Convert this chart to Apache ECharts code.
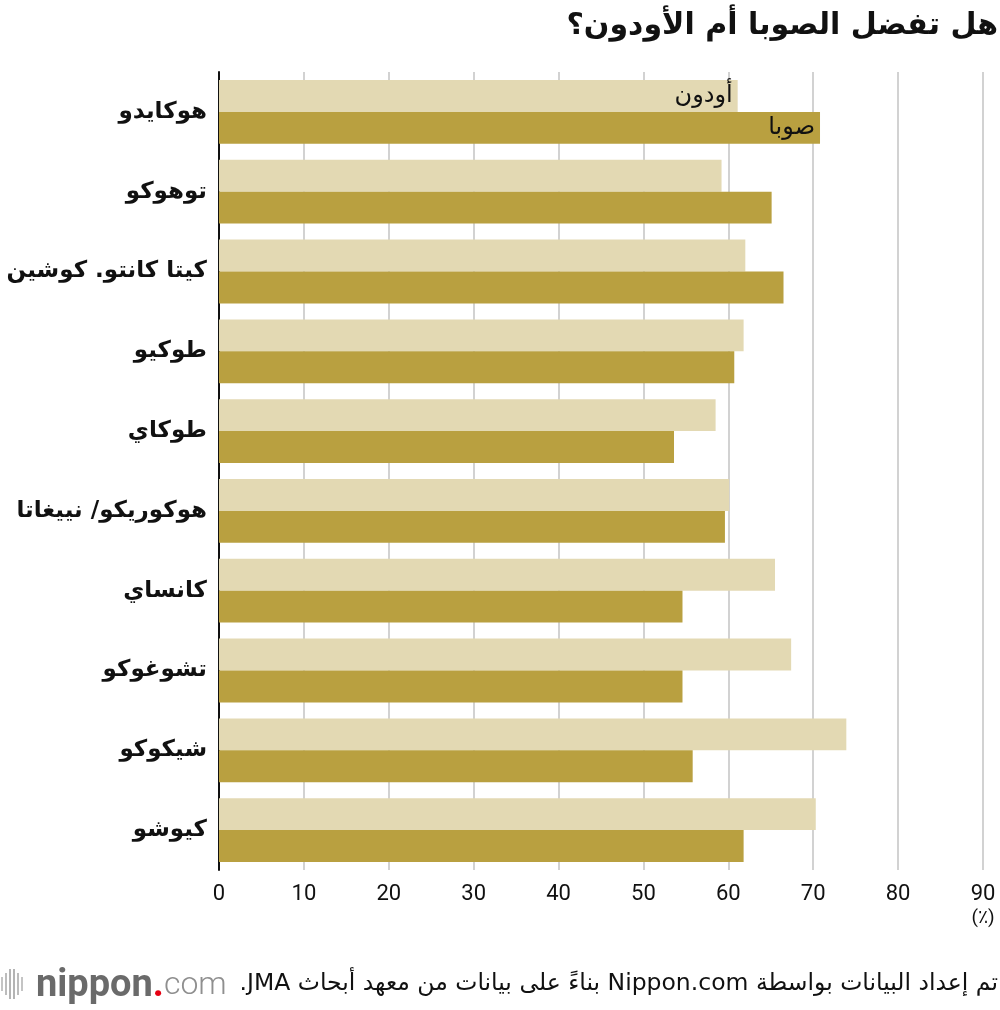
<!DOCTYPE html>
<html>
<head>
<meta charset="utf-8">
<script src="https://cdn.jsdelivr.net/npm/echarts@6/dist/echarts.min.js"></script>
<style>
html, body { margin: 0; padding: 0; background: #fff; }
#chart { width: 1000px; height: 1010px; }
</style>
</head>
<body>
<div id="chart"></div>
<script>
var regions = ['هوكايدو', 'توهوكو', 'كيتا كانتو. كوشين', 'طوكيو', 'طوكاي', 'هوكوريكو/ نييغاتا', 'كانساي', 'تشوغوكو', 'شيكوكو', 'كيوشو'];
var udon = [61.1, 59.2, 62.0, 61.8, 58.5, 60.1, 65.5, 67.4, 73.9, 70.3];
var soba = [70.8, 65.1, 66.5, 60.7, 53.6, 59.6, 54.6, 54.6, 55.8, 61.8];
var udonName = 'أودون';
var sobaName = 'صوبا';

var RLE = '\u202B', PDF = '\u202C';
var titleText = RLE + 'هل تفضل الصوبا أم الأودون؟' + PDF;
var footerText = RLE + 'تم إعداد البيانات بواسطة Nippon.com بناءً على بيانات من معهد أبحاث JMA.' + PDF;

var arFont = '"DejaVu Sans", "Noto Sans", sans-serif';
var numFont = 'Roboto, sans-serif';

// first bar of each series carries the series name inside
var withLabel = function(values, name){
	var out = [];
	for(var i = 0; i < values.length; i++){
		if(i == 0){
			out.push({
				value: values[i],
				label: {
					show: true,
					position: 'insideRight',
					formatter: name,
					color: '#111',
					fontSize: 24,
					fontFamily: arFont,
					distance: 5
				}
			});
		}else{
			out.push(values[i]);
		}
	}
	return out;
};

var chart = echarts.init(document.getElementById('chart'));
chart.setOption({
	animation: false,
	grid: { left: 219, right: 17, top: 72, bottom: 140 },
	xAxis: {
		type: 'value',
		min: 0,
		max: 90,
		interval: 10,
		axisLine: { show: false },
		axisTick: { show: false },
		axisLabel: { fontSize: 22, color: '#111', fontFamily: numFont, margin: 13 },
		splitLine: { show: true, lineStyle: { color: '#d2d2d2', width: 2 } }
	},
	yAxis: {
		type: 'category',
		inverse: true,
		data: regions,
		axisLine: { show: true, lineStyle: { color: '#111', width: 2 } },
		axisTick: { show: false },
		axisLabel: { fontSize: 23, fontWeight: 'bold', color: '#111', fontFamily: arFont, margin: 12 }
	},
	series: [
		{
			name: udonName,
			type: 'bar',
			data: withLabel(udon, udonName),
			barGap: '0%',
			barCategoryGap: '20%',
			itemStyle: { color: '#e3d9b3' },
			z: 3
		},
		{
			name: sobaName,
			type: 'bar',
			data: withLabel(soba, sobaName),
			barGap: '0%',
			barCategoryGap: '20%',
			itemStyle: { color: '#b9a040' },
			z: 3
		}
	],
	graphic: [
		{
			type: 'text',
			right: 2,
			top: 11,
			style: { text: titleText, fill: '#111', fontSize: 30, fontWeight: 'bold', fontFamily: arFont }
		},
		{
			type: 'text',
			x: 983,
			y: 918,
			style: { text: '(٪)', fontSize: 19, fill: '#111', fontFamily: numFont, align: 'center', verticalAlign: 'middle' }
		},
		{
			type: 'text',
			right: 2,
			top: 972,
			style: { text: footerText, fontSize: 23.5, fill: '#111', fontFamily: arFont }
		},
		// logo
		{ type: 'rect', shape: { x: 1, y: 977, width: 2, height: 14 }, style: { fill: '#c4c4c4' } },
		{ type: 'rect', shape: { x: 5, y: 973, width: 2, height: 22 }, style: { fill: '#bcbcbc' } },
		{ type: 'rect', shape: { x: 9, y: 969, width: 2, height: 30 }, style: { fill: '#b4b4b4' } },
		{ type: 'rect', shape: { x: 13, y: 969, width: 2, height: 30 }, style: { fill: '#b4b4b4' } },
		{ type: 'rect', shape: { x: 17, y: 973, width: 2, height: 22 }, style: { fill: '#bcbcbc' } },
		{ type: 'rect', shape: { x: 21, y: 977, width: 2, height: 14 }, style: { fill: '#c4c4c4' } },
		{
			type: 'text',
			x: 36,
			y: 986,
			style: {
				text: '{a|nippon}{b|.}{c|com}',
				verticalAlign: 'middle',
				rich: {
					a: { fontSize: 38, fontWeight: 'bold', fill: '#6a6a6a', fontFamily: 'Roboto, sans-serif' },
					b: { fontSize: 38, fontWeight: 'bold', fill: '#e60012', fontFamily: 'Roboto, sans-serif' },
					c: { fontSize: 32, fontWeight: 300, fill: '#8f8f8f', fontFamily: 'Roboto, sans-serif' }
				}
			}
		}
	]
});
</script>
</body>
</html>
